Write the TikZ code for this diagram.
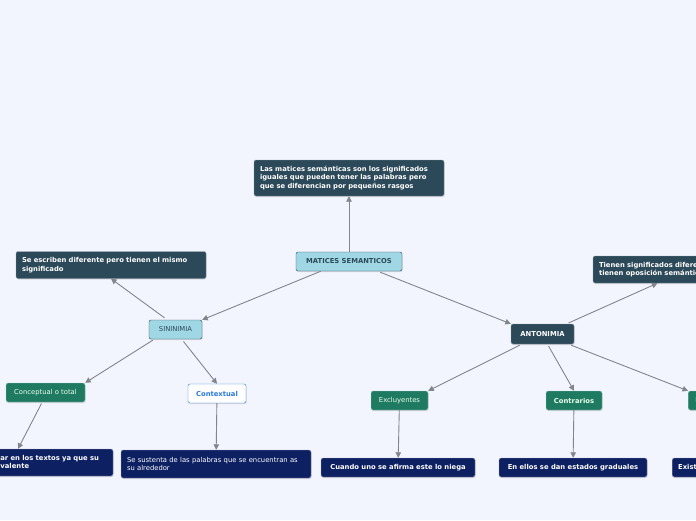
\documentclass[tikz,border=0pt]{standalone}
\usepackage{fontspec}
\setmainfont{DejaVu Sans}
\usetikzlibrary{arrows.meta,shadows}
\definecolor{fondo}{RGB}{243,245,254}
\definecolor{pizarra}{RGB}{44,73,89}
\definecolor{celeste}{RGB}{160,215,228}
\definecolor{verde}{RGB}{31,122,98}
\definecolor{marino}{RGB}{13,32,98}
\definecolor{azul}{RGB}{42,122,218}
\definecolor{flecha}{RGB}{130,133,140}
\newcommand\letra{\fontsize{6.8}{8.6}\selectfont}
\tikzset{
  caja/.style={rounded corners=2pt, inner xsep=6pt, inner ysep=0pt, align=left,
    font=\letra,
    drop shadow={shadow xshift=0.6pt, shadow yshift=-1pt, opacity=0.25}},
  oscura/.style={caja, fill=pizarra, draw=pizarra!55!white, text=white, font=\bfseries\letra},
  clara/.style={caja, fill=celeste, draw=pizarra, text=pizarra, align=center},
  verdecaja/.style={caja, fill=verde, draw=verde!40!white, text=green!8!white, align=center},
  marinocaja/.style={caja, fill=marino, draw=marino!40!white, text=white, font=\bfseries\letra},
  blanca/.style={caja, fill=white, draw=azul, text=azul, align=center, font=\bfseries\letra},
  conector/.style={draw=flecha, line width=0.9pt, -{Triangle[width=5.5pt,length=5.5pt]}}
}
\begin{document}
\begin{tikzpicture}[x=1pt,y=-1pt]
  \fill[fondo] (0,0) rectangle (696,520);
  \useasboundingbox (0,0) rectangle (696,520);
  \clip (0,0) rectangle (696,520);
  % centro
  \node[clara, font=\bfseries\letra, minimum width=106pt, minimum height=19pt] (matices) at (349,261.5) {MATICES SEMANTICOS};
  \node[oscura, text width=178pt, minimum height=36pt] (definicion) at (349,178) {Las matices semánticas son los significados\\iguales que pueden tener las palabras pero\\que se diferencian por pequeños rasgos};
  % sinonimia
  \node[clara, minimum width=53pt, minimum height=19pt] (sinonimia) at (175.5,329.5) {SININIMIA};
  \node[oscura, text width=178pt, minimum height=27pt] (escriben) at (111,265) {Se escriben diferente pero tienen el mismo\\significado};
  \node[verdecaja, minimum width=79pt, minimum height=19pt] (conceptual) at (45.5,392.5) {Conceptual o total};
  \node[blanca, minimum width=58pt, minimum height=19pt] (contextual) at (217,393.5) {Contextual};
  \node[marinocaja, text width=178pt, minimum height=27pt] (conmutar) at (18,462.5) {Se pueden conmutar en los textos ya que su\\significado es equivalente};
  \node[marinocaja, font=\letra, text width=178pt, minimum height=28pt] (sustenta) at (216,464) {Se sustenta de las palabras que se encuentran as\\su alrededor};
  % antonimia
  \node[oscura, align=center, minimum width=63pt, minimum height=20pt] (antonimia) at (542.5,334) {ANTONIMIA};
  \node[oscura, text width=178pt, minimum height=27pt] (tienen) at (688,269.5) {Tienen significados diferentes y\\tienen oposición semántica};
  \node[verdecaja, minimum width=57pt, minimum height=19pt] (excluyentes) at (399.5,400.5) {Excluyentes};
  \node[verdecaja, font=\bfseries\letra, minimum width=56pt, minimum height=19pt] (contrarios) at (574,400.5) {Contrarios};
  \node[verdecaja, font=\bfseries\letra, anchor=west, minimum width=56pt, minimum height=19pt] (reciprocos) at (688,400.5) {Recíprocos};
  \node[marinocaja, align=center, minimum width=154pt, minimum height=19pt] (cuando) at (398,467.5) {Cuando uno se afirma este lo niega};
  \node[marinocaja, align=center, minimum width=148pt, minimum height=19pt] (graduales) at (573,467.5) {En ellos se dan estados graduales};
  \node[marinocaja, anchor=west, text width=160pt, minimum height=19pt] (existe) at (672,467.5) {Existe una relación de reciprocidad};
  % conectores
  \draw[conector] (matices) -- (definicion);
  \draw[conector] (matices.south west) ++(25,0) -- (sinonimia.north east);
  \draw[conector] (matices.south east) ++(-22,1) -- (antonimia.north west);
  \draw[conector] (sinonimia.north) ++(-11,-2) -- (escriben.south);
  \draw[conector] (sinonimia.south west) ++(4,1) -- (conceptual.north east);
  \draw[conector] (sinonimia) ++(8,12) -- (contextual.north);
  \draw[conector] (conceptual) ++(-4,11) -- (conmutar.north);
  \draw[conector] (contextual) -- (sustenta);
  \draw[conector] (antonimia) ++(26,-11) -- (tienen);
  \draw[conector] (antonimia.south west) ++(9,1) -- (excluyentes.north east);
  \draw[conector] (antonimia) ++(6,12) -- (contrarios.north);
  \draw[conector] (antonimia.south east) ++(-3,1) -- (reciprocos.north west);
  \draw[conector] (excluyentes) -- (cuando);
  \draw[conector] (contrarios) -- (graduales);
  \draw[conector] (reciprocos) -- (existe);
\end{tikzpicture}
\end{document}
